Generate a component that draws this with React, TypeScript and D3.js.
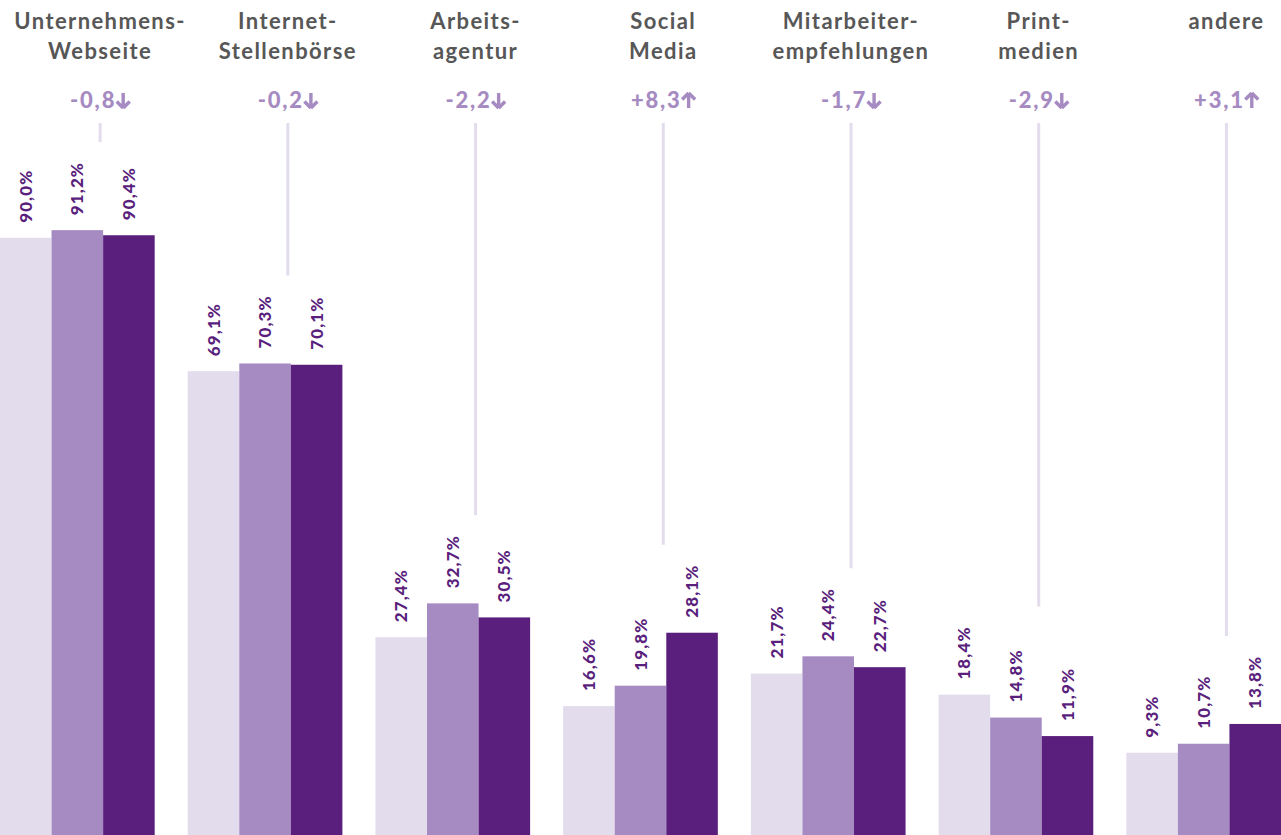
import React from 'react'
import * as d3 from 'd3'

// Kategorien (zweizeilig)
const categories = [
  ['Unternehmens-', 'Webseite'],
  ['Internet-', 'Stellenbörse'],
  ['Arbeits-', 'agentur'],
  ['Social', 'Media'],
  ['Mitarbeiter-', 'empfehlungen'],
  ['Print-', 'medien'],
  ['andere'],
]

// Werte je Jahr (hell, mittel, dunkel)
const seriesLight = [90.0, 69.1, 27.4, 16.6, 21.7, 18.4, 9.3]
const seriesMid = [91.2, 70.3, 32.7, 19.8, 24.4, 14.8, 10.7]
const seriesDark = [90.4, 70.1, 30.5, 28.1, 22.7, 11.9, 13.8]

// Veränderung in Prozentpunkten
const changes = ['-0,8', '-0,2', '-2,2', '+8,3', '-1,7', '-2,9', '+3,1']

const colors = ['#e3dced', '#a68bc2', '#5a1f7d']
const W = 1281
const H = 835
const FONT = 'Lato, "Open Sans", sans-serif'

const App = () => {
  const ref = React.useRef<SVGSVGElement | null>(null)

  React.useEffect(() => {
    const svg = d3.select(ref.current)
    svg.selectAll('*').remove()

    const keys = categories.map((c) => c.join(''))
    const series = [seriesLight, seriesMid, seriesDark]

    const x = d3.scaleBand().domain(keys).range([0, W]).paddingInner(0.176).paddingOuter(0)
    const xi = d3.scaleBand<number>().domain([0, 1, 2]).range([0, x.bandwidth()]).padding(0)
    const y = d3.scaleLinear().domain([0, 100]).range([812, 812 - 638])

    const groups = svg
      .selectAll('g.group')
      .data(keys)
      .enter()
      .append('g')
      .attr('class', 'group')
      .attr('transform', (d) => `translate(${x(d)},0)`)

    const lineX = xi(2)! - 3

    groups.each(function (d, i) {
      const g = d3.select(this)

      // Kategorie-Beschriftung
      const t = g
        .append('text')
        .attr('text-anchor', 'middle')
        .attr('font-family', FONT)
        .attr('font-weight', 700)
        .attr('font-size', 22)
        .attr('letter-spacing', 1.4)
        .attr('fill', '#575757')
      categories[i].forEach((line, j) => {
        t.append('tspan').attr('x', lineX).attr('y', 29 + j * 30).text(line)
      })

      // Veränderung mit Pfeil
      const up = changes[i].startsWith('+')
      const ct = g
        .append('text')
        .attr('y', 108)
        .attr('font-family', FONT)
        .attr('font-weight', 900)
        .attr('font-size', 22)
        .attr('letter-spacing', 1.8)
        .attr('fill', '#a68bc2')
        .text(changes[i])
      const tw = (ct.node() as SVGTextElement).getComputedTextLength()
      const total = tw + 14
      const x0 = lineX - total / 2
      ct.attr('x', x0)
      const ax = x0 + tw + 7
      const arrow = up
        ? `M${ax},${93} L${ax + 6.5},${99.5} M${ax},${93} L${ax - 6.5},${99.5} M${ax},${93} L${ax},${108}`
        : `M${ax},${108} L${ax + 6.5},${101.5} M${ax},${108} L${ax - 6.5},${101.5} M${ax},${108} L${ax},${93}`
      g.append('path')
        .attr('d', arrow)
        .attr('fill', 'none')
        .attr('stroke', '#a68bc2')
        .attr('stroke-width', 3.4)
        .attr('stroke-linecap', 'butt')
        .attr('stroke-linejoin', 'miter')

      // Verbindungslinie
      const maxV = d3.max(series, (s) => s[i]) || 0
      g.append('line')
        .attr('x1', lineX)
        .attr('x2', lineX)
        .attr('y1', 123)
        .attr('y2', y(maxV) - 88)
        .attr('stroke', '#e3dced')
        .attr('stroke-width', 3)
    })

    // Balken + Werte
    series.forEach((s, si) => {
      groups
        .append('rect')
        .attr('x', xi(si)!)
        .attr('y', (_d, i) => y(s[i]))
        .attr('width', xi.bandwidth())
        .attr('height', (_d, i) => H - y(s[i]))
        .attr('fill', colors[si])

      groups
        .append('text')
        .attr('transform', (_d, i) => `translate(${xi(si)! + xi.bandwidth() / 2 + 6},${y(s[i]) - 15}) rotate(-90)`)
        .attr('font-family', FONT)
        .attr('font-weight', 900)
        .attr('font-size', 17)
        .attr('letter-spacing', 1.1)
        .attr('fill', '#5a1f7d')
        .text((_d, i) => s[i].toFixed(1).replace('.', ',') + '%')
    })
  }, [])

  return (
    <svg
      ref={ref}
      width={W}
      height={H}
      style={{ position: 'absolute', left: 0, top: 0, background: '#fff' }}
    ></svg>
  )
}

export default App
